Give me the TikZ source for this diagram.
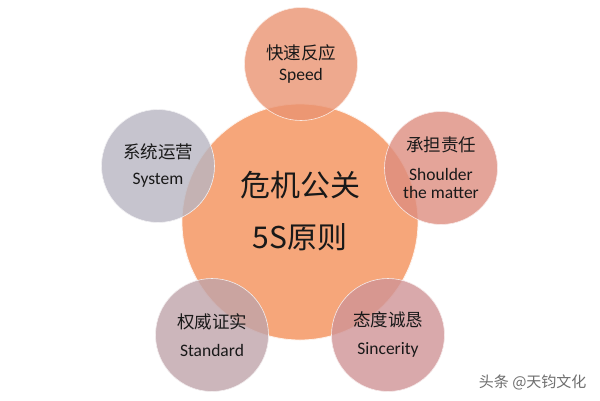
\documentclass[tikz,border=0pt]{standalone}
\usepackage{fontspec}
\setmainfont{Carlito}
\newfontfamily\cjk{Noto Sans CJK SC}
\usepackage{tikz}
\usetikzlibrary{positioning}
\usepackage{xcolor}

\definecolor{hubfill}{RGB}{246,166,122}
\definecolor{speedfill}{RGB}{234,148,114}
\definecolor{shoulderfill}{RGB}{222,142,128}
\definecolor{sincerefill}{RGB}{208,148,150}
\definecolor{standardfill}{RGB}{192,164,170}
\definecolor{systemfill}{RGB}{184,182,194}
\definecolor{marktext}{RGB}{110,110,110}

\tikzset{
    hub/.style={circle, fill=hubfill, draw=white!85!hubfill, line width=0.8pt,
        minimum size=236pt, inner sep=0pt},
    petal/.style={circle, fill=#1, fill opacity=0.8, text opacity=1,
        draw=white!80!#1, line width=0.6pt, minimum size=113pt, inner sep=0pt,
        align=center, text=black!90, font=\fontsize{17.5}{22}\selectfont},
}

\begin{document}
\begin{tikzpicture}[x=1pt,y=-1pt]
    \useasboundingbox[fill=white] (0,0) rectangle (600,400);
    % centre
    \node[hub] (crisis) at (300,222) {};
    \node[align=center, text=black!90, font=\fontsize{30}{52}\selectfont\cjk] (crisistext) at (300,211) {危机公关\\5S原则};
    % the five S
    \node[petal=speedfill] (speed) at (301,64) {{\cjk 快速反应}\\[-1pt]Speed};
    \node[petal=shoulderfill] (shoulder) at (441,168) {{\cjk 承担责任}\\[7pt]Shoulder\\[-4pt]the matter};
    \node[petal=sincerefill] (sincere) at (388,335) {{\cjk 态度诚恳}\\[6pt]Sincerity};
    \node[petal=standardfill] (standard) at (212,335) {{\cjk 权威证实}\\[6pt]Standard};
    \node[petal=systemfill] (system) at (158,166) {{\cjk 系统运营}\\[4pt]System};
    % watermark
    \node[text=marktext, font=\fontsize{15}{18}\selectfont\cjk, anchor=east] (mark) at (590,382) {头条 @天钧文化};
\end{tikzpicture}
\end{document}
